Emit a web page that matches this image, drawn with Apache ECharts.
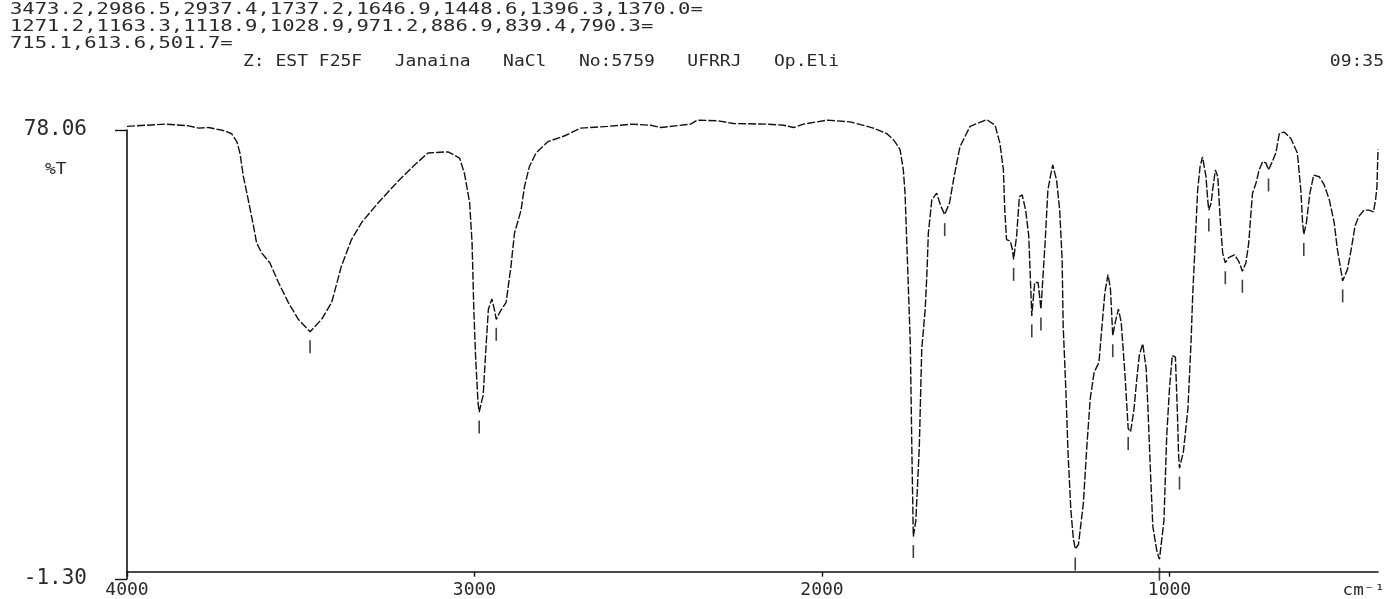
<!DOCTYPE html>
<html>
<head>
<meta charset="utf-8">
<script src="https://cdn.jsdelivr.net/npm/echarts@6/dist/echarts.min.js"></script>
<style>
  html, body { margin: 0; padding: 0; background: #fff; }
  #chart { width: 1389px; height: 599px; }
</style>
</head>
<body>
<div id="chart"></div>
<script>
// IR spectrum, %T against wavenumber (cm-1)
const wavenumbers = [
  4000, 3890, 3823, 3794, 3765, 3718, 3699, 3684, 3675, 3665, 3651, 3636, 3627, 3612, 3589, 3564, 3536, 3507,
  3473.2, 3440, 3411, 3383, 3354, 3325, 3277, 3220, 3172, 3134, 3076, 3043, 3029, 3014, 3007, 3002, 2997, 2990,
  2986.5, 2975, 2966, 2960, 2950, 2943, 2937.4, 2925, 2909, 2895, 2885, 2866, 2856, 2842, 2823, 2789, 2742, 2694,
  2617, 2579, 2550, 2493, 2464, 2378, 2359, 2301, 2254, 2158, 2110, 2081, 2053, 1985, 1919, 1852, 1813, 1794,
  1780, 1775, 1766, 1761, 1756, 1746, 1741, 1737.2, 1730, 1720, 1713, 1703, 1698, 1694, 1684, 1670, 1658,
  1646.9, 1633, 1620, 1603, 1574, 1526, 1502, 1488, 1478, 1474, 1469, 1458, 1452, 1448.6, 1440, 1432, 1424,
  1414, 1405, 1396.3, 1388, 1378, 1370, 1358, 1350, 1343, 1336, 1325, 1316, 1309, 1306, 1298, 1292, 1284, 1277,
  1271.2, 1262, 1248, 1238, 1228, 1217, 1203, 1195, 1186, 1177, 1170, 1163.3, 1156, 1147, 1139, 1128, 1118.9,
  1112, 1102, 1095, 1087, 1077, 1067, 1062, 1055, 1048, 1036, 1028.9, 1016, 1008, 1000, 992, 983, 977, 974,
  971.2, 960, 947, 938, 933, 926, 919, 912, 905, 895, 890, 886.9, 880, 876, 868, 861, 854, 847, 839.4, 830,
  813, 801, 790.3, 780, 772, 765, 761, 751, 742, 732, 722, 715.1, 706, 694, 684, 670, 651, 632, 622, 617,
  613.6, 606, 596, 585, 569, 555, 540, 526, 517, 509, 501.7, 488, 477, 466, 455, 440, 426, 413, 407, 403, 400
];
const transmittance = [
  78.7, 79.1, 78.8, 78.4, 78.5, 77.9, 77.4, 76.0, 74.0, 69.8, 65.7, 61.1, 58.1, 56.3, 54.6, 51.1, 47.6, 44.6,
  42.4, 44.6, 47.6, 54.0, 58.7, 61.7, 65.2, 69.0, 71.9, 74.0, 74.2, 73.1, 70.4, 65.2, 58.1, 46.4, 38.2, 30.0,
  28.2, 31.2, 40.6, 46.4, 48.2, 46.4, 44.6, 46.1, 47.6, 54.0, 59.8, 63.9, 68.1, 71.6, 74.0, 76.0, 77.0, 78.4,
  78.7, 78.9, 79.1, 78.9, 78.5, 79.1, 79.8, 79.7, 79.2, 79.1, 78.9, 78.5, 79.1, 79.8, 79.5, 78.4, 77.4, 76.3,
  75.1, 74.5, 71.0, 66.9, 58.1, 40.6, 20.0, 6.2, 9.0, 22.0, 39.3, 46.4, 52.8, 59.8, 65.7, 66.9, 64.6,
  63.1, 65.2, 69.8, 75.1, 78.7, 79.9, 78.9, 75.7, 71.0, 63.9, 58.7, 58.4, 56.9, 55.2, 59.3, 66.3, 66.6,
  63.9, 59.3, 45.2, 51.1, 51.1, 46.4, 58.1, 67.4, 69.8, 71.9, 69.2, 63.9, 55.2, 43.5, 31.7, 21.0, 11.0, 6.0,
  4.0, 4.8, 12.0, 22.0, 30.6, 35.2, 37.0, 42.9, 49.3, 52.5, 50.0, 41.7, 44.1, 46.4, 44.1, 34.7, 25.3,
  24.7, 28.8, 33.5, 38.2, 40.3, 35.8, 28.8, 18.0, 8.0, 3.5, 2.2, 9.0, 24.0, 32.4, 38.2, 37.9, 27.6, 20.8,
  18.3, 21.2, 28.8, 40.6, 49.3, 58.1, 67.4, 71.6, 73.3, 69.8, 65.7, 63.9, 65.2, 67.4, 71.0, 69.8, 62.2, 56.3, 54.6, 55.5,
  56.0, 54.9, 53.1, 54.6, 58.1, 63.9, 66.9, 68.7, 71.0, 72.5, 72.2, 71.0, 72.2, 74.0, 77.4, 77.7, 76.6, 74.0, 67.4, 61.7,
  59.6, 61.7, 66.9, 70.1, 69.8, 68.4, 65.7, 61.7, 57.0, 54.1, 51.4, 53.4, 57.0, 61.1, 62.8, 63.9, 63.9, 63.6, 65.7, 68.1, 74.6
];
const peakWavenumbers = [
  3473.2, 2986.5, 2937.4, 1737.2, 1646.9, 1448.6, 1396.3, 1370.0,
  1271.2, 1163.3, 1118.9, 1028.9, 971.2, 886.9, 839.4, 790.3,
  715.1, 613.6, 501.7
];
const xTicks = [4000, 3000, 2000, 1000];
const yTicks = [-1.30, 78.06];
const sampleInfo = 'Z: EST F25F   Janaina   NaCl   No:5759   UFRRJ   Op.Eli';
const timeStamp = '09:35';

const mono = '"DejaVu Sans Mono", monospace';
const ink = '#2a2a2a';

// peak list printed in rows of 8, like the instrument header
const headerLines = [peakWavenumbers.slice(0, 8), peakWavenumbers.slice(8, 16), peakWavenumbers.slice(16)]
  .map((group) => group.map((v) => v.toFixed(1)).join(',') + '=');

const spectrum = wavenumbers.map((wn, i) => [wn, transmittance[i]]);
const peakMarks = peakWavenumbers.map((wn) => {
  const i = wavenumbers.findIndex((w) => Math.abs(w - wn) < 0.01);
  return [wn, transmittance[i]];
});

const textItem = (text, x, y, scaleX, align = 'left', size = 15) => ({
  type: 'text',
  x,
  y,
  scaleX,
  style: {
    text,
    font: `${size}px ${mono}`,
    fill: ink,
    textAlign: align,
    textVerticalAlign: 'middle',
  },
});

const chart = echarts.init(document.getElementById('chart'));
chart.setOption({
  animation: false,
  backgroundColor: '#fff',
  grid: { left: 127, top: 130, right: 11, bottom: 19 },
  xAxis: {
    type: 'value',
    inverse: true,
    min: 400,
    max: 4000,
    splitLine: { show: false },
    axisLine: { lineStyle: { color: '#111', width: 1.6 } },
    axisTick: { customValues: xTicks, length: 5, lineStyle: { color: '#111', width: 1.4 } },
    axisLabel: {
      customValues: xTicks,
      margin: 2,
      color: ink,
      fontFamily: mono,
      fontSize: 18,
      formatter: (v) => String(v),
    },
  },
  yAxis: {
    type: 'value',
    min: yTicks[0],
    max: yTicks[1],
    splitLine: { show: false },
    axisLine: { show: true, lineStyle: { color: '#111', width: 1.6 } },
    axisTick: { show: true, customValues: yTicks, length: 12, lineStyle: { color: '#111', width: 1.4 } },
    axisLabel: {
      customValues: yTicks,
      margin: 40,
      color: ink,
      fontFamily: mono,
      fontSize: 21,
      formatter: (v) => v.toFixed(2),
    },
  },
  graphic: [
    textItem(headerLines[0], 10, 10, 1.37),
    textItem(headerLines[1], 10, 27, 1.37),
    textItem(headerLines[2], 10, 44, 1.37),
    textItem(sampleInfo, 243, 62, 1.2),
    textItem(timeStamp, 1384, 62, 1.2, 'right'),
    textItem('%T', 45, 170, 1.2),
    textItem('cm⁻¹', 1385, 591, 1.1, 'right', 16),
  ],
  series: [
    {
      type: 'line',
      data: spectrum,
      showSymbol: false,
      clip: false,
      lineStyle: { color: '#111', width: 1.4, type: [8, 2] },
    },
    {
      type: 'scatter',
      data: peakMarks,
      clip: false,
      symbol: 'rect',
      symbolSize: [1.6, 13],
      symbolOffset: [0, 15],
      itemStyle: { color: '#111' },
    },
  ],
});
</script>
</body>
</html>
